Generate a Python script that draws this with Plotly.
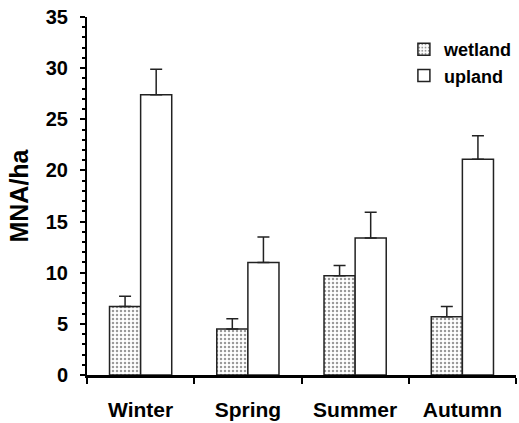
import plotly.graph_objects as go

seasons = ["Winter", "Spring", "Summer", "Autumn"]
wetland = [6.7, 4.5, 9.7, 5.7]
wetland_err = [1.0, 1.0, 1.0, 1.0]
upland = [27.4, 11.0, 13.4, 21.1]
upland_err = [2.5, 2.5, 2.5, 2.3]

font_family = "Liberation Sans, Arial, sans-serif"

fig = go.Figure()
fig.add_trace(go.Bar(
    name="wetland", x=seasons, y=wetland,
    marker=dict(color="white", line=dict(color="#222", width=1.5),
                pattern=dict(shape=".", size=4, solidity=0.3,
                             fgcolor="#333", bgcolor="white")),
    error_y=dict(type="data", array=wetland_err, symmetric=False,
                 arrayminus=[0] * 4, color="#222", thickness=1.5, width=6),
))
fig.add_trace(go.Bar(
    name="upland", x=seasons, y=upland,
    marker=dict(color="white", line=dict(color="#222", width=1.5)),
    error_y=dict(type="data", array=upland_err, symmetric=False,
                 arrayminus=[0] * 4, color="#222", thickness=1.5, width=6),
))

fig.update_layout(
    width=519, height=423,
    margin=dict(l=87, r=2, t=17, b=48),
    paper_bgcolor="white", plot_bgcolor="white",
    barmode="group", bargap=0.42, bargroupgap=0,
    font=dict(family=font_family, size=16, color="black"),
    legend=dict(x=0.737, y=0.961, xanchor="left", yanchor="top",
                font=dict(size=18, family=font_family, weight="bold"),
                bgcolor="rgba(0,0,0,0)", tracegroupgap=0, itemwidth=30),
    xaxis=dict(
        type="category", showline=True, linecolor="black", linewidth=2.5,
        ticks="outside", tickson="boundaries", ticklen=6, tickwidth=2,
        tickcolor="black", showgrid=False, ticklabelstandoff=14,
        tickfont=dict(size=21, family=font_family, weight="bold"),
    ),
    yaxis=dict(
        range=[0, 35], dtick=5, showline=True, linecolor="black", linewidth=2,
        ticks="outside", ticklen=5, tickwidth=2, tickcolor="black",
        showgrid=False, zeroline=False, ticklabelstandoff=8,
        tickfont=dict(size=20, family=font_family, weight="bold"),
        minor=dict(dtick=1, ticks="outside", ticklen=3, tickwidth=1.5,
                   tickcolor="black", showgrid=False),
        title=dict(text="MNA/ha", standoff=10,
                   font=dict(size=25, family=font_family, weight="bold")),
    ),
)

fig.write_html("out.html")
